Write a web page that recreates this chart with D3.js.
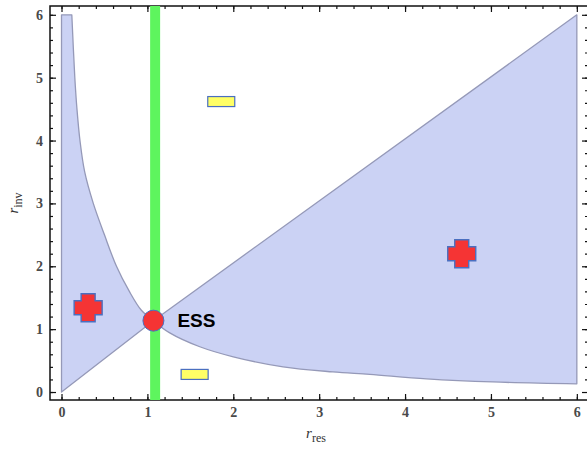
<!DOCTYPE html>
<html>
<head>
<meta charset="utf-8">
<script src="https://cdn.jsdelivr.net/npm/d3@7"></script>
<style>
  body { margin: 0; background: #fff; }
  svg { display: block; }
</style>
</head>
<body>
<div id="chart"></div>
<script>
// values (data units)
const ticks = [0, 1, 2, 3, 4, 5, 6]
const ess = [1.07, 1.135]
const leftCurve = [[0.12, 6], [0.155, 5], [0.18, 4.5], [0.215, 4], [0.27, 3.5], [0.37, 3], [0.5, 2.5], [0.64, 2], [0.79, 1.6], [0.93, 1.3], ess]
const rightCurve = [ess, [1.26, 0.94], [1.61, 0.72], [2.0, 0.56], [2.58, 0.40], [3.16, 0.32], [3.59, 0.28], [4.25, 0.21], [5.02, 0.16], [6, 0.13]]
const crosses = [[0.31, 1.34], [4.66, 2.2]]
const bars = [[1.86, 4.62], [1.55, 0.28]]
const greenX = 1.09

const width = 587
const height = 450

const svg = d3.select("#chart").append("svg")
  .attr("width", width)
  .attr("height", height)

// frame goes a bit past 0..6 like the original
const x = d3.scaleLinear().domain([-0.134, 6.13]).range([50, 588])
const y = d3.scaleLinear().domain([-0.127, 6.14]).range([400, 6])

function regionPath(parts) {
  let d = ""
  parts.forEach((p, i) => {
    const gen = d3.line()
      .x(v => x(v[0]))
      .y(v => y(v[1]))
      .curve(p.smooth ? d3.curveCatmullRom.alpha(0.5) : d3.curveLinear)
    let s = gen(p.pts)
    if (i > 0) s = "L" + s.slice(1)
    d += s
  })
  return d + "Z"
}

const regions = [
  [{ pts: [[0, 0], [0, 6]] }, { pts: leftCurve, smooth: true }],
  [{ pts: rightCurve, smooth: true }, { pts: [[6, 0.13], [6, 6]] }]
]

svg.selectAll("path.region")
  .data(regions)
  .enter()
  .append("path")
  .attr("class", "region")
  .attr("d", regionPath)
  .attr("fill", "#cbd2f4")
  .attr("stroke", "#9599b8")
  .attr("stroke-width", 1.3)
  .attr("stroke-linejoin", "round")

// axes: inward ticks on all four sides
const minor = d3.range(0, 6.01, 0.2)

function tickAxis(axis, pos, transform, size, labels) {
  const g = svg.append("g")
    .attr("transform", transform)
    .call(axis(pos).tickValues(minor).tickSize(-3).tickFormat(""))
  g.call(gg => gg.select(".domain").remove())
  const g2 = svg.append("g")
    .attr("transform", transform)
    .call(axis(pos).tickValues(ticks).tickSize(-size).tickPadding(7)
      .tickFormat(labels ? d3.format("d") : ""))
  g2.select(".domain").remove()
  g2.selectAll("text")
    .attr("fill", "#4a4a4a")
    .style("font-family", "'Liberation Serif', 'DejaVu Serif', serif")
    .style("font-size", "14px")
    .style("font-weight", "bold")
  svg.selectAll(".tick line").attr("stroke", "#111").attr("stroke-width", 1.2)
}

tickAxis(d3.axisBottom, x, "translate(0,400)", 6, true)
tickAxis(d3.axisTop, x, "translate(0,6)", 6, false)
tickAxis(d3.axisLeft, y, "translate(50,0)", 6, true)
tickAxis(d3.axisRight, y, "translate(588,0)", 6, false)

svg.append("rect")
  .attr("x", 50).attr("y", 6)
  .attr("width", 538).attr("height", 394)
  .attr("fill", "none")
  .attr("stroke", "#111")
  .attr("stroke-width", 1.5)

// green vertical line
svg.append("line")
  .attr("x1", x(greenX)).attr("x2", x(greenX))
  .attr("y1", 6).attr("y2", 400)
  .attr("stroke", "#5ef55e")
  .attr("stroke-width", 10)

// markers
const markStroke = "#4a6fc0"
const crossPath = "M-7,-14H7V-7H14V7H7V14H-7V7H-14V-7H-7Z"

svg.selectAll("path.cross")
  .data(crosses)
  .enter()
  .append("path")
  .attr("class", "cross")
  .attr("transform", d => `translate(${x(d[0])},${y(d[1])})`)
  .attr("d", crossPath)
  .attr("fill", "#f53434")
  .attr("stroke", markStroke)
  .attr("stroke-width", 1.4)

svg.selectAll("rect.bar")
  .data(bars)
  .enter()
  .append("rect")
  .attr("class", "bar")
  .attr("x", d => x(d[0]) - 13.5)
  .attr("y", d => y(d[1]) - 5)
  .attr("width", 27)
  .attr("height", 10)
  .attr("fill", "#ffff66")
  .attr("stroke", markStroke)
  .attr("stroke-width", 1.2)

svg.append("circle")
  .attr("cx", x(ess[0])).attr("cy", y(ess[1]))
  .attr("r", 10.5)
  .attr("fill", "#f53434")
  .attr("stroke", markStroke)
  .attr("stroke-width", 1)

svg.append("text")
  .attr("x", x(ess[0]) + 24)
  .attr("y", y(ess[1]) + 6)
  .attr("font-family", "'Liberation Sans', Arial, sans-serif")
  .attr("font-weight", "bold")
  .attr("font-size", 19)
  .text("ESS")

// axis labels
const xl = svg.append("text")
  .attr("x", 316).attr("y", 438)
  .attr("text-anchor", "middle")
  .attr("fill", "#333")
  .style("font-family", "'Liberation Serif', 'DejaVu Serif', serif")
  .style("font-size", "15px")
xl.append("tspan").attr("font-style", "italic").text("r")
xl.append("tspan").attr("dy", 4).attr("font-size", "12px").text("res")

const yl = svg.append("text")
  .attr("transform", "translate(18,203) rotate(-90)")
  .attr("text-anchor", "middle")
  .attr("fill", "#333")
  .style("font-family", "'Liberation Serif', 'DejaVu Serif', serif")
  .style("font-size", "15px")
yl.append("tspan").attr("font-style", "italic").text("r")
yl.append("tspan").attr("dy", 4).attr("font-size", "12px").text("inv")
</script>
</body>
</html>
